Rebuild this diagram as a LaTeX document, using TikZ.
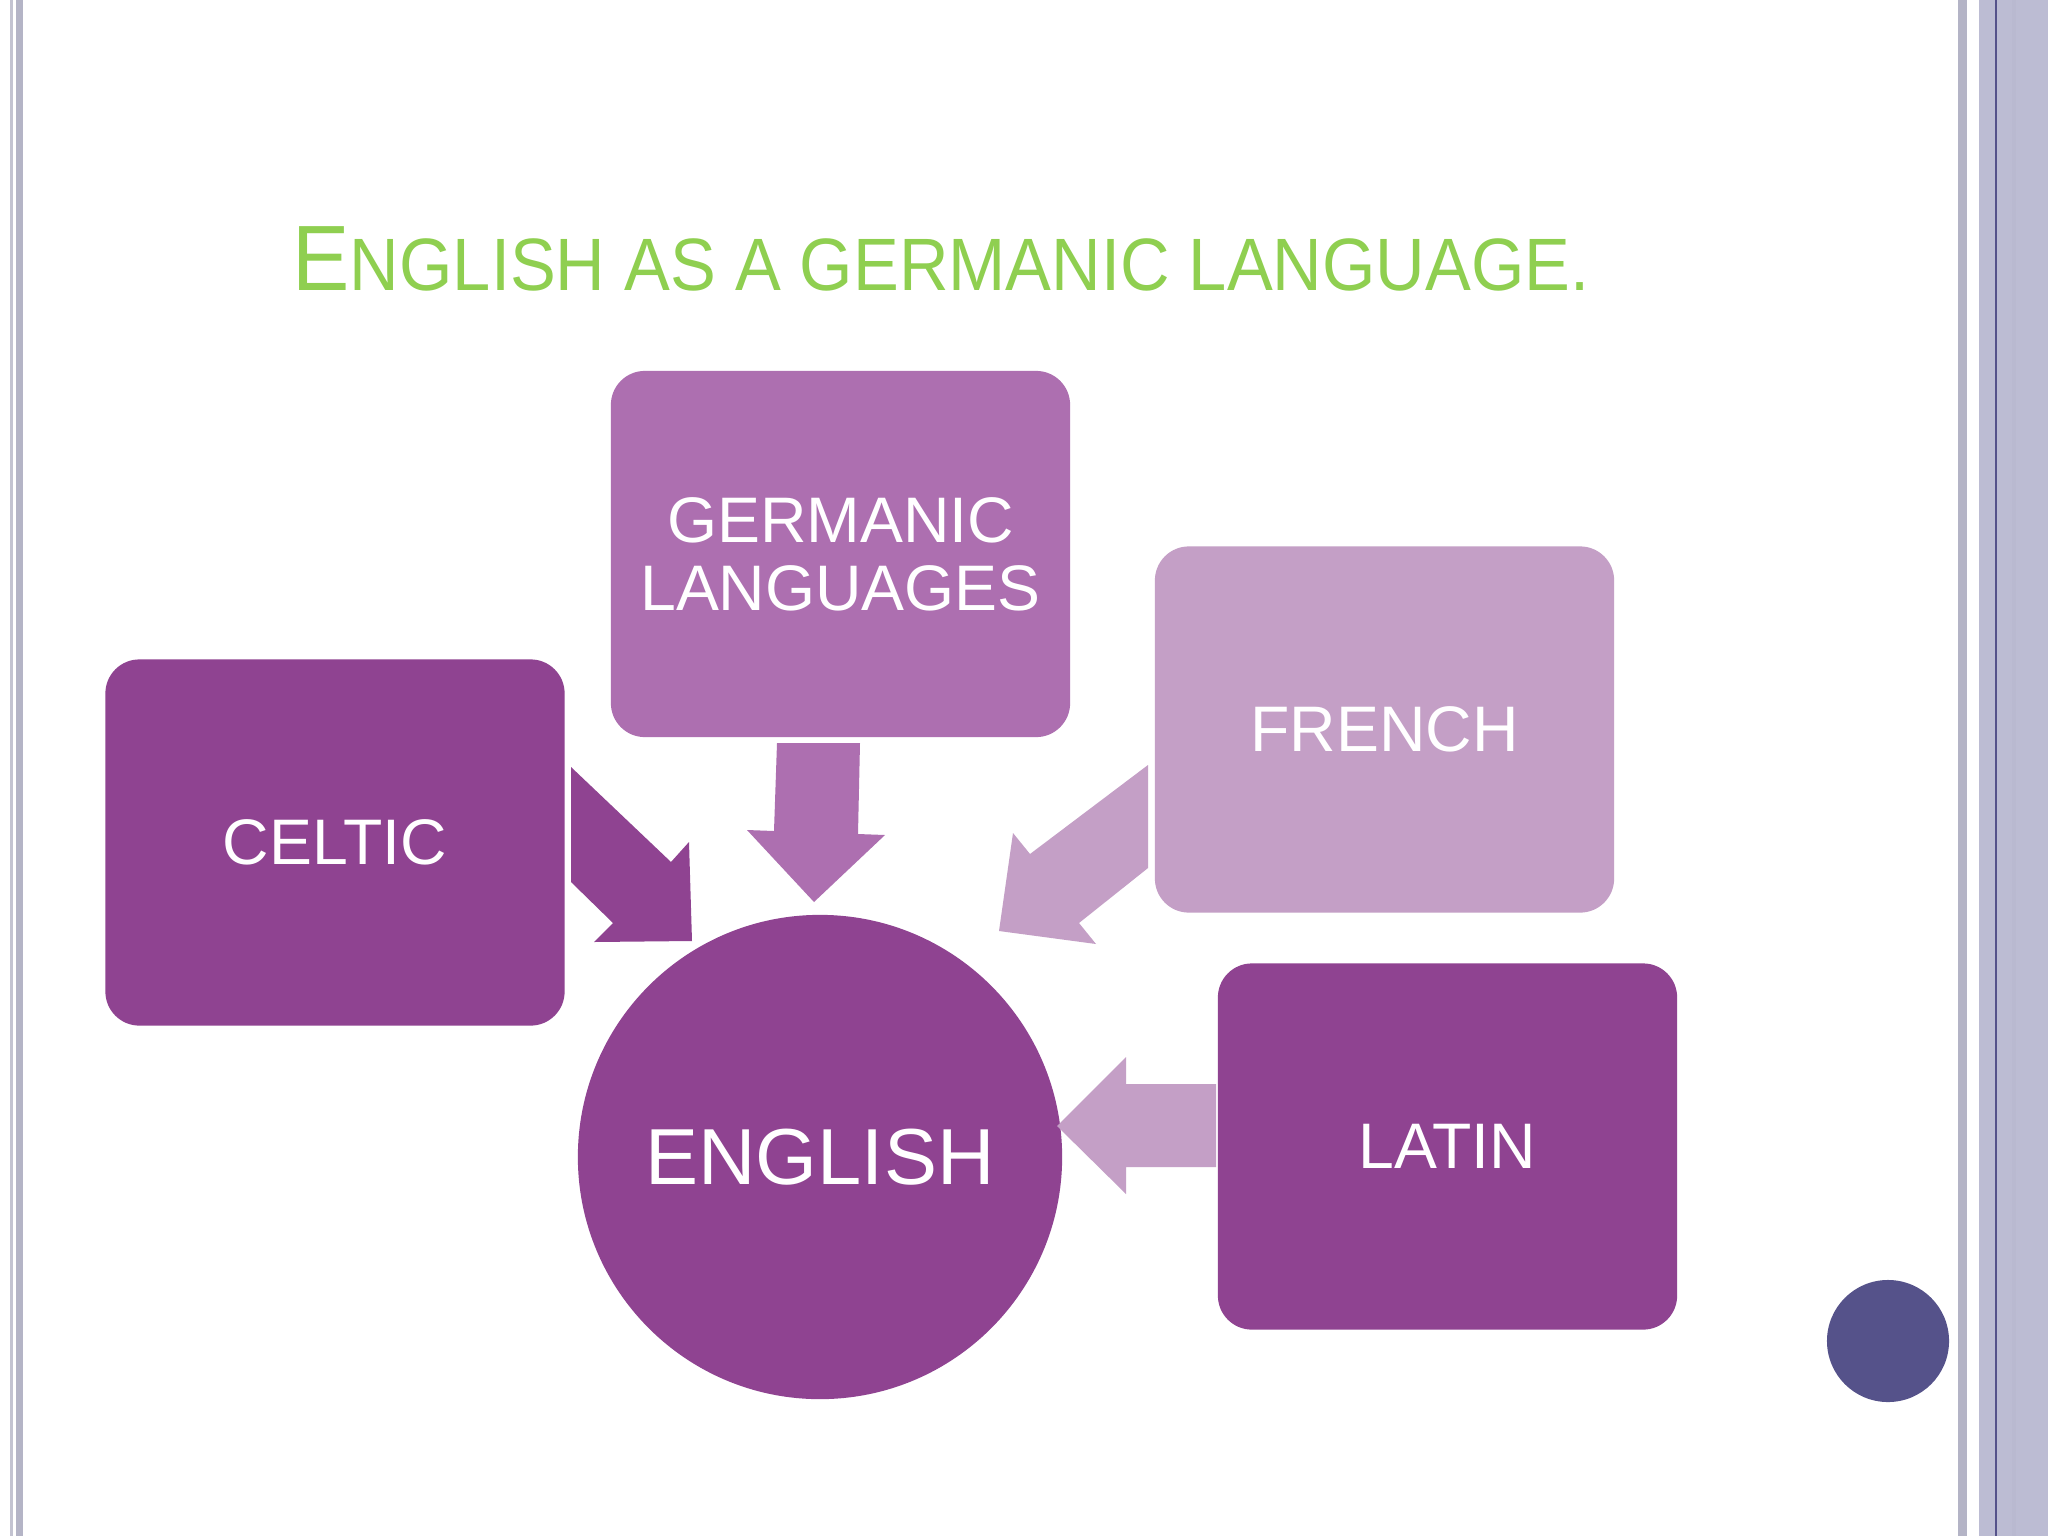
\documentclass[tikz,border=0pt]{standalone}
\usepackage{fontspec}
\setmainfont{Liberation Sans}
\usetikzlibrary{positioning}

\definecolor{plumdark}{HTML}{8F4391}
\definecolor{plummid}{HTML}{AD6FB0}
\definecolor{plumlight}{HTML}{C49FC6}
\definecolor{titlegreen}{HTML}{8FCF50}
\definecolor{railgrey}{HTML}{B4B4C6}
\definecolor{railband}{HTML}{BCBCD3}
\definecolor{dotblue}{HTML}{55528A}

\tikzset{
  langbox/.style={rectangle,rounded corners=0.34cm,minimum width=4.59cm,minimum height=3.66cm,
    text=white,align=center,font=\fontsize{18.3}{19.3}\selectfont},
  blockarrow/.style={draw=none}
}

\begin{document}
\begin{tikzpicture}[x=0.01cm,y=-0.01cm]
                \useasboundingbox (0,0) rectangle (2048,1536);
                \fill[white] (0,0) rectangle (2048,1536);
                % side rails
                \fill[railgrey!80] (10,0) rectangle (13,1536);
                \fill[railgrey] (15.5,0) rectangle (23,1536);
                \fill[railgrey] (1958,0) rectangle (1967,1536);
                \fill[railband] (1979,0) rectangle (2048,1536);
                \fill[railgrey!90!black!10!railband] (2012,0) rectangle (2016,1536);
                \fill[dotblue] (1995,0) rectangle (1997,1536);
                % title
                \node[anchor=base west,inner sep=0,text=titlegreen,xscale=0.925] (title) at (292,290)
                    {\fontsize{26.4}{30}\selectfont E\fontsize{21.1}{24}\selectfont NGLISH AS A GERMANIC LANGUAGE.};
                % boxes
                \node[langbox,fill=plummid] (germanic) at (840.5,554) {GERMANIC\\LANGUAGES};
                \node[langbox,fill=plumlight] (french) at (1384.5,729.5) {FRENCH};
                \node[langbox,fill=plumdark] (celtic) at (335,842.5) {CELTIC};
                \node[langbox,fill=plumdark] (latin) at (1447.5,1146.5) {LATIN};
                \node[circle,fill=plumdark,minimum size=4.84cm,text=white,font=\fontsize{22.6}{26}\selectfont] (english) at (820,1157) {ENGLISH};
                % arrows into english
                \fill[plumdark,blockarrow] (571,767) -- (671,862) -- (689,842) -- (692,941) -- (594,942) -- (613,923) -- (571,882) -- cycle;
                \fill[plummid,blockarrow] (777,743) -- (860,743) -- (858,834) -- (885,835) -- (814,902) -- (747,830) -- (774,831) -- cycle;
                \fill[plumlight,blockarrow] (1148,765) -- (1148,868) -- (1079,923) -- (1096,944) -- (999,931) -- (1013,833) -- (1030,854) -- cycle;
                \fill[plumlight,blockarrow] (1216,1084) -- (1216,1167) -- (1126,1167) -- (1126,1194) -- (1057,1126) -- (1126,1057) -- (1126,1084) -- cycle;
                % dot
                \node[circle,fill=dotblue,minimum size=1.22cm,inner sep=0] (dot) at (1888,1341) {};
\end{tikzpicture}
\end{document}
